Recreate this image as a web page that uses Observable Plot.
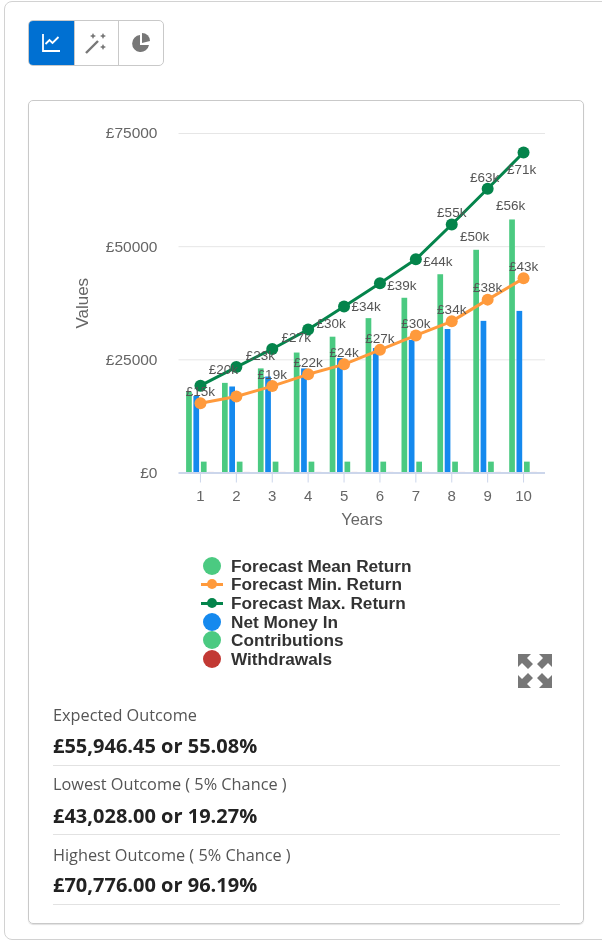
<!DOCTYPE html>
<html><head><meta charset="utf-8">
<script src="https://cdn.jsdelivr.net/npm/d3@7"></script>
<script src="https://cdn.jsdelivr.net/npm/@observablehq/plot@0.6"></script>
<style>
html,body{margin:0;padding:0;background:#fff;overflow:hidden;width:602px;height:942px}
#page{position:relative;width:602px;height:942px;overflow:hidden;font-family:"Liberation Sans",Arial,sans-serif;filter:blur(.45px)}
.abs{position:absolute}
#outer{left:4px;top:1px;width:720px;height:939px;border:1px solid #d2d2d2;border-radius:8px;box-sizing:border-box}
#btns{left:28px;top:20px;width:136px;height:46px;border:1px solid #c9c9c9;border-radius:5px;box-sizing:border-box;display:flex;overflow:hidden}
#btns div{flex:1;display:flex;align-items:center;justify-content:center;border-left:1px solid #c9c9c9}
#btns div:first-child{background:#0070d2;border-left:0;flex:1.02}
#card{left:28px;top:100px;width:556px;height:824px;border:1px solid #c9c9c9;border-radius:5px;box-sizing:border-box;box-shadow:0 1px 1px rgba(0,0,0,.12)}
#plot{left:28px;top:100px}
#plot svg{display:block;background:transparent}
.li{position:absolute;left:231px;font:bold 17.2px/16px "Liberation Sans",Arial,sans-serif;color:#333;white-space:nowrap}
.dot{position:absolute;width:18px;height:18px;border-radius:50%}
.ln{position:absolute;left:201px;width:22px;height:3px}
.ld{position:absolute;left:207px;width:10px;height:10px;border-radius:50%}
.t{position:absolute;left:53px;font:16.3px/20px "Open Sans",sans-serif;color:#555;white-space:nowrap}
.b{position:absolute;left:53px;font:bold 20px/24px "Open Sans",sans-serif;color:#222;white-space:nowrap}
.r{position:absolute;left:53px;width:507px;height:1px;background:#e2e2e2}
</style></head><body>
<div id="page">
<div class="abs" id="outer"></div>
<div class="abs" id="btns">
 <div><svg width="20" height="20" viewBox="0 0 20 20"><path d="M2 1v17h17M4.500 11l4-4 3 3 6-6" fill="none" stroke="#fff" stroke-width="1.800"/></svg></div>
 <div><svg width="24" height="24" viewBox="0 0 24 24"><path d="M2 22L14 10" stroke="#777" stroke-width="2.400"/><path d="M9 2l1 2 2 1-2 1-1 2-1-2-2-1 2-1zM19 2l1 2 2 1-2 1-1 2-1-2-2-1 2-1zM19 13l1 2 2 1-2 1-1 2-1-2-2-1 2-1z" fill="#777"/></svg></div>
 <div><svg width="20" height="20" viewBox="0 0 20 20"><path d="M9 2a8.500 8.500 0 1 0 9 10H9z" fill="#777"/><path d="M11 0a8 8 0 0 1 8 8l-8 2z" fill="#777"/></svg></div>
</div>
<div class="abs" id="card"></div>
<div class="abs" id="plot"></div>
<div id="legend"></div>
<svg class="abs" style="left:517px;top:653px" width="36" height="36" viewBox="0 0 36 36" fill="#777"><path d="M1 1h13l-4 4 6 6-5 5-6-6-4 4zM35 1v13l-4-4-6 6-5-5 6-6-4-4zM1 35V22l4 4 6-6 5 5-6 6 4 4zM35 35H22l4-4-6-6 5-5 6 6 4-4z"/></svg>
<div id="outcomes"></div>
</div>
<script>
const years = [1,2,3,4,5,6,7,8,9,10];
const meanReturn = [17800,19800,23000,26500,30000,34100,38600,43800,49200,55900];
const netMoneyIn = [16900,19000,21200,23000,25300,27500,29300,31700,33500,35700];
const contributions = [2400,2400,2400,2400,2400,2400,2400,2400,2400,2400];
const withdrawals = [120,120,120,120,120,120,120,120,120,120];
const minReturn = [15400,16900,19200,21800,24000,27200,30400,33500,38300,43000];
const maxReturn = [19300,23400,27400,31700,36800,41900,47200,54900,62800,70800];
const minLabels = ["£15k","","£19k","£22k","£24k","£27k","£30k","£34k","£38k","£43k"];
const maxLabels = ["£20k","£23k","£27k","£30k","£34k","£39k","£44k","£55k","£63k","£71k"];
const meanLabels = ["","","","","","","","","£50k","£56k"];
const yTicks = [0,25000,50000,75000];
const legendItems = ["Forecast Mean Return","Forecast Min. Return","Forecast Max. Return","Net Money In","Contributions","Withdrawals"];
const outcomeTitles = ["Expected Outcome","Lowest Outcome ( 5% Chance )","Highest Outcome ( 5% Chance )"];
const outcomeValues = ["£55,946.45 or 55.08%","£43,028.00 or 19.27%","£70,776.00 or 96.19%"];

const C = {mean:"#4bca81",min:"#ff9a3c",max:"#04844b",net:"#1589ee",wd:"#c23934"};
const table = vals => years.map((x,i)=>({x,y:vals[i],i}));
const bars = (vals,fill,dx)=>Plot.barY(table(vals),{x:"x",y:"y",fill,dx,insetLeft:15.1,insetRight:15.1});
const lab = (vals,texts,idx,dx,dy)=>Plot.text(idx.map(i=>({x:years[i],y:vals[i],t:texts[i]})),
  {x:"x",y:"y",text:"t",dx,dy,fontSize:13.5,fill:"#555"});

const chart = Plot.plot({
  width:555,height:440,marginLeft:154,marginRight:42,marginTop:33,marginBottom:67.5,
  style:{background:"transparent",fontFamily:"'Liberation Sans',Arial,sans-serif",overflow:"visible"},
  x:{type:"band",domain:years,padding:0,round:false},
  y:{domain:[0,75000]},
  marks:[
    Plot.ruleY(yTicks.slice(1),{stroke:"#e6e6e6",insetLeft:-3.5,insetRight:-4}),
    Plot.axisX({tickSize:10,stroke:"#ccd6eb",fill:"#666",fontSize:15,tickPadding:7,label:null}),
    Plot.axisY({ticks:yTicks,tickSize:0,tickPadding:25,tickFormat:d=>"£"+d,fill:"#666",fontSize:15.5,label:null}),
    Plot.text(["Years"],{frameAnchor:"bottom",dy:52,fontSize:16.5,fill:"#666"}),
    Plot.text(["Values"],{frameAnchor:"left",textAnchor:"middle",dx:-100,rotate:-90,fontSize:17,fill:"#666"}),
    bars(meanReturn,C.mean,-11),
    bars(netMoneyIn,C.net,-3.7),
    bars(contributions,C.mean,3.8),
    bars(withdrawals,C.wd,11),
    Plot.ruleY([0],{stroke:"#ccd6eb",strokeWidth:2,insetLeft:-3.5,insetRight:-4}),
    Plot.line(table(minReturn),{x:"x",y:"y",stroke:C.min,strokeWidth:3}),
    Plot.dot(table(minReturn),{x:"x",y:"y",fill:C.min,r:6}),
    Plot.line(table(maxReturn),{x:"x",y:"y",stroke:C.max,strokeWidth:3}),
    Plot.dot(table(maxReturn),{x:"x",y:"y",fill:C.max,r:6}),
    lab(minReturn,minLabels,[0,2,3,4,5,6,7,8,9],0,-11.5),
    lab(maxReturn,maxLabels,[0],23,-16),
    lab(maxReturn,maxLabels,[1,2],24,-11),
    lab(maxReturn,maxLabels,[3],23,-6),
    lab(maxReturn,maxLabels,[4],22,0),
    lab(maxReturn,maxLabels,[5,6],22,2.5),
    lab(maxReturn,maxLabels,[7],0,-12),
    lab(maxReturn,maxLabels,[8],-3,-11),
    lab(maxReturn,maxLabels,[9],-2,17),
    lab(meanReturn,meanLabels,[8,9],-13,-14)
  ]
});
document.getElementById("plot").append(chart);

const lg = document.getElementById("legend");
const ys = [566,584,603,622,640,659];
const col = [C.mean,C.min,C.max,C.net,C.mean,C.wd];
legendItems.forEach((name,i)=>{
  const y=ys[i];
  if(i==1||i==2){
    lg.insertAdjacentHTML("beforeend",`<div class="ln" style="top:${y-1.5}px;background:${col[i]}"></div><div class="ld" style="top:${y-5}px;background:${col[i]}"></div>`);
  } else {
    lg.insertAdjacentHTML("beforeend",`<div class="dot" style="left:203px;top:${y-9}px;background:${col[i]}"></div>`);
  }
  lg.insertAdjacentHTML("beforeend",`<div class="li" style="top:${y-8.5}px">${name}</div>`);
});
const oc = document.getElementById("outcomes");
const ty=[715,784,855], by=[746,816,885], ry=[765,834,904];
outcomeTitles.forEach((t,i)=>{
  oc.insertAdjacentHTML("beforeend",`<div class="t" style="top:${ty[i]-10}px">${t}</div><div class="b" style="top:${by[i]-12}px">${outcomeValues[i]}</div><div class="r" style="top:${ry[i]}px"></div>`);
});
</script>
</body></html>
